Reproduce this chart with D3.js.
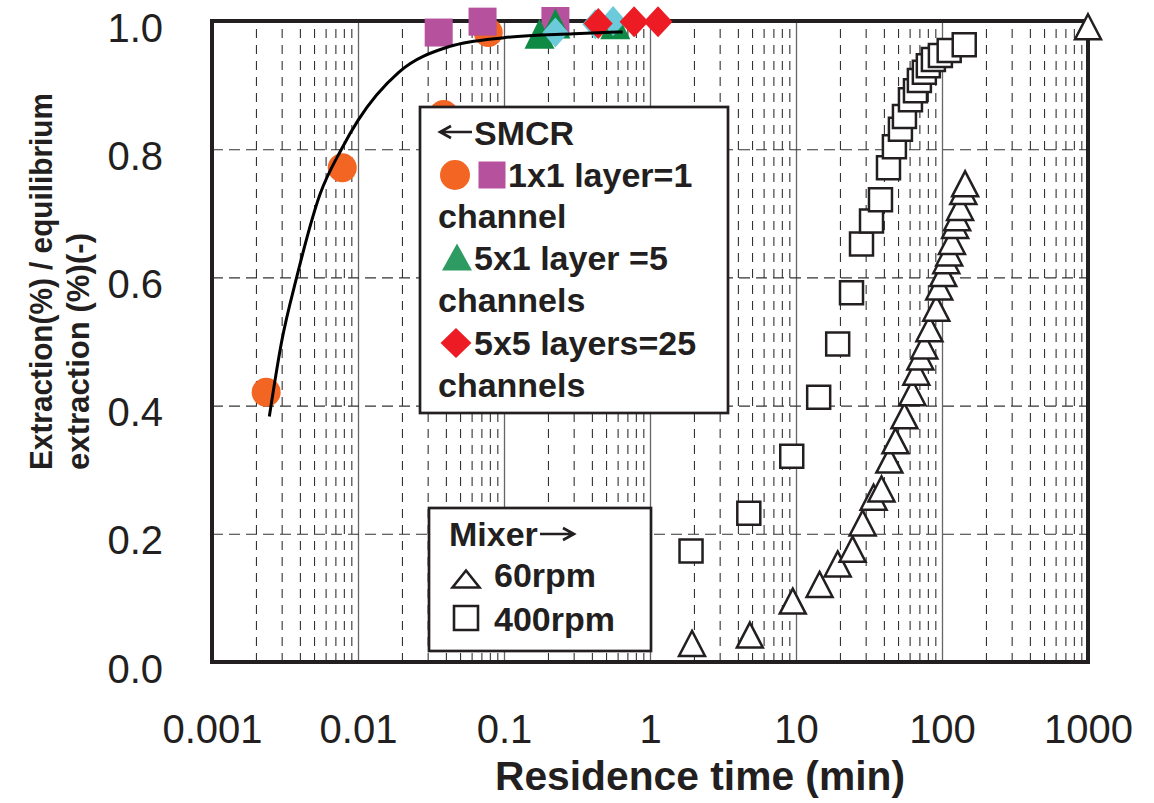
<!DOCTYPE html>
<html>
  <head>
    <meta charset="UTF-8">
    <script src="https://d3js.org/d3.v7.min.js"></script>
    <title>extraction vs residence time</title>
    <style>
      body { margin: 0; background: #fff; }
      text { font-family: "Liberation Sans", Arial, "DejaVu Sans", sans-serif; fill: #231f20; }
    </style>
  </head>
  <body>
    <svg class="chart"></svg>
    <script type="text/javascript">

     var width = 1154,
         height = 803;

     // SMCR 1x1 layer (circles + squares)
     var c1x1X = [0.00235, 0.0078, 0.0386, 0.078];
     var c1x1Y = [0.421, 0.771, 0.854, 0.982];
     var s1x1X = [0.0357, 0.0713, 0.225];
     var s1x1Y = [0.982, 0.999, 1.0];
     // SMCR 5x1 layer
     var t5x1X = [0.175, 0.225, 0.578];
     var t5x1Y = [0.98, 0.996, 0.995];
     // cyan diamonds (not in legend)
     var cyanX = [0.225, 0.422, 0.559];
     var cyanY = [0.982, 0.995, 1.0];
     // SMCR 5x5 layers
     var d5x5X = [0.442, 0.778, 1.135];
     var d5x5Y = [0.996, 0.999, 0.999];
     // fitted curve
     var fitX = [0.00247, 0.0030, 0.0038, 0.0055, 0.0077, 0.010, 0.019, 0.042, 0.10, 0.30, 0.65];
     var fitY = [0.383, 0.50, 0.60, 0.73, 0.80, 0.845, 0.92, 0.96, 0.974, 0.98, 0.983];
     // mixer 400 rpm
     var m400X = [1.91, 4.75, 9.35, 14.3, 19.3, 24.0, 28.1, 32.9, 37.9, 43.0, 47.2, 51.9, 55.3, 60.8, 65.8, 70.0, 75.7, 80.6, 87.3, 97.5, 112, 142];
     var m400Y = [0.173, 0.232, 0.321, 0.413, 0.496, 0.576, 0.652, 0.688, 0.721, 0.771, 0.804, 0.831, 0.851, 0.877, 0.891, 0.907, 0.920, 0.930, 0.940, 0.946, 0.954, 0.963];
     // mixer 60 rpm
     var m60X = [1.94, 4.83, 9.50, 14.5, 19.3, 24.4, 28.6, 34.0, 38.5, 43.6, 48.0, 55.3, 62.7, 66.7, 71.1, 75.7, 82.0, 91.4, 95.7, 102, 107, 112, 117, 123, 127, 133, 140, 144, 1000];
     var m60Y = [0.029, 0.042, 0.095, 0.121, 0.153, 0.176, 0.217, 0.257, 0.270, 0.315, 0.345, 0.384, 0.420, 0.452, 0.476, 0.493, 0.520, 0.552, 0.585, 0.606, 0.626, 0.638, 0.656, 0.681, 0.693, 0.709, 0.734, 0.746, 0.991];

     var xTicks = [0.001, 0.01, 0.1, 1, 10, 100, 1000];
     var xTickLabels = ["0.001", "0.01", "0.1", "1", "10", "100", "1000"];
     var yTicks = [0, 0.2, 0.4, 0.6, 0.8, 1.0];
     var yTickLabels = ["0.0", "0.2", "0.4", "0.6", "0.8", "1.0"];

     function zip(xs, ys) { return xs.map(function(v, i) { return {x: v, y: ys[i]}; }); }

     var x = d3.scaleLog().domain([0.001, 1000]).range([212, 1088]);
     var y = d3.scaleLinear().domain([0, 1]).range([662, 21]);

     var minor = x.ticks().filter(function(d) {
         var l = Math.log10(d); return Math.abs(l - Math.round(l)) > 1e-6; });

     var chart = d3.select(".chart")
                   .attr("width", width)
                   .attr("height", height);

     // minor vertical dashed grid
     var gMinor = chart.append("g")
          .attr("transform", "translate(0," + y(0) + ")")
          .call(d3.axisBottom(x).tickValues(minor).tickSize(-(y(0) - y(1))).tickFormat(""));
     gMinor.select(".domain").remove();
     gMinor.selectAll("line").attr("stroke", "#333").attr("stroke-width", 1.1)
          .attr("stroke-dasharray", "9,7");

     // decade solid grid
     var gMajor = chart.append("g")
          .attr("transform", "translate(0," + y(0) + ")")
          .call(d3.axisBottom(x).tickValues(xTicks.slice(1, -1)).tickSize(-(y(0) - y(1))).tickFormat(""));
     gMajor.select(".domain").remove();
     gMajor.selectAll("line").attr("stroke", "#666").attr("stroke-width", 1.3);

     // horizontal dashed grid
     var gH = chart.append("g")
          .attr("transform", "translate(" + x(0.001) + ",0)")
          .call(d3.axisLeft(y).tickValues([0.2, 0.4, 0.6, 0.8]).tickSize(-(x(1000) - x(0.001))).tickFormat(""));
     gH.select(".domain").remove();
     gH.selectAll("line").attr("stroke", "#333").attr("stroke-width", 1.1)
          .attr("stroke-dasharray", "11,6");

     // tick labels
     var gx = chart.append("g")
          .attr("transform", "translate(0," + y(0) + ")")
          .call(d3.axisBottom(x).tickValues(xTicks).tickSize(0).tickPadding(53)
                .tickFormat(function(d, i) { return xTickLabels[i]; }));
     gx.select(".domain").remove();
     gx.selectAll("text").style("font-size", "40px").attr("fill", "#231f20")
          .style("font-family", '"Liberation Sans", Arial, sans-serif');

     var gy = chart.append("g")
          .attr("transform", "translate(" + x(0.001) + ",0)")
          .call(d3.axisLeft(y).tickValues(yTicks).tickSize(0).tickPadding(49)
                .tickFormat(function(d, i) { return yTickLabels[i]; }));
     gy.select(".domain").remove();
     gy.selectAll("text").style("font-size", "40px").attr("fill", "#231f20").attr("dy", "0.5em")
          .style("font-family", '"Liberation Sans", Arial, sans-serif');

     // plot frame
     chart.append("rect")
          .attr("x", x(0.001)).attr("y", y(1))
          .attr("width", x(1000) - x(0.001)).attr("height", y(0) - y(1))
          .attr("fill", "none").attr("stroke", "#231f20").attr("stroke-width", 4);

     // marker paths
     function sq(s) { var h = s / 2; return "M" + (-h) + "," + (-h) + "h" + s + "v" + s + "h" + (-s) + "Z"; }
     function tri(w, hgt) { return "M0," + (-hgt / 2) + "L" + (w / 2) + "," + (hgt / 2) + "L" + (-w / 2) + "," + (hgt / 2) + "Z"; }
     function dia(w, hgt) { return "M0," + (-hgt / 2) + "L" + (w / 2) + ",0L0," + (hgt / 2) + "L" + (-w / 2) + ",0Z"; }

     function markers(data, path, fill, stroke, sw) {
         chart.append("g").selectAll("path")
              .data(data).enter().append("path")
              .attr("d", path)
              .attr("transform", function(d) { return "translate(" + x(d.x) + "," + y(d.y) + ")"; })
              .attr("fill", fill)
              .attr("stroke", stroke)
              .attr("stroke-width", sw);
     }

     // mixer
     markers(zip(m400X, m400Y), sq(23), "#fff", "#231f20", 2.5);
     markers(zip(m60X, m60Y), tri(26, 25), "#fff", "#231f20", 2.5);

     // SMCR
     chart.append("g").selectAll("circle")
          .data(zip(c1x1X, c1x1Y)).enter().append("circle")
          .attr("cx", function(d) { return x(d.x); })
          .attr("cy", function(d) { return y(d.y); })
          .attr("r", 14.5)
          .attr("fill", "#f26522");
     markers(zip(s1x1X, s1x1Y), sq(28), "#b5519d", "none", 0);
     markers(zip(t5x1X, t5x1Y), tri(30, 30), "#0f8a45", "none", 0);
     markers(zip(cyanX, cyanY), dia(26, 30), "#6ccbda", "none", 0);
     markers(zip(d5x5X, d5x5Y), dia(29, 31), "#ed1c24", "none", 0);

     // fitted line
     var line = d3.line()
          .x(function(d) { return x(d.x); })
          .y(function(d) { return y(d.y); })
          .curve(d3.curveMonotoneX);
     chart.append("path")
          .datum(zip(fitX, fitY))
          .attr("d", line)
          .attr("fill", "none")
          .attr("stroke", "#000")
          .attr("stroke-width", 3);

     // arrow drawn as a path, tip at (tx,ty), pointing left (dir=-1) or right (dir=1)
     function arrow(g, tx, ty, len, dir) {
         g.append("path")
          .attr("d", "M" + (tx - dir * len) + "," + ty + "H" + tx +
                     "M" + (tx - dir * 11) + "," + (ty - 6) + "L" + tx + "," + ty + "L" + (tx - dir * 11) + "," + (ty + 6))
          .attr("fill", "none").attr("stroke", "#231f20").attr("stroke-width", 2.6);
     }

     // SMCR legend
     var lg = chart.append("g");
     lg.append("rect").attr("x", 420).attr("y", 107).attr("width", 308).attr("height", 306)
       .attr("fill", "#fff").attr("stroke", "#231f20").attr("stroke-width", 2.7);
     var lgLines = [
         {t: "SMCR", x: 474, y: 145},
         {t: "1x1 layer=1", x: 508, y: 187},
         {t: "channel", x: 438, y: 228},
         {t: "5x1 layer =5", x: 474, y: 270},
         {t: "channels", x: 438, y: 312},
         {t: "5x5 layers=25", x: 474, y: 355},
         {t: "channels", x: 438, y: 397}
     ];
     lg.selectAll("text.l").data(lgLines).enter().append("text")
       .attr("x", function(d) { return d.x; })
       .attr("y", function(d) { return d.y; })
       .style("font-size", "34px").style("font-weight", "bold")
       .text(function(d) { return d.t; });
     arrow(lg, 440, 132, 32, -1);
     lg.append("circle").attr("cx", 455).attr("cy", 175).attr("r", 15).attr("fill", "#f26522");
     lg.append("path").attr("d", sq(27)).attr("transform", "translate(492,175)").attr("fill", "#b5519d");
     lg.append("path").attr("d", tri(30, 27)).attr("transform", "translate(457,257)").attr("fill", "#2e9b63");
     lg.append("path").attr("d", dia(31, 30)).attr("transform", "translate(456,343)").attr("fill", "#ed1c24");

     // mixer legend
     var lg2 = chart.append("g");
     lg2.append("rect").attr("x", 429).attr("y", 508).attr("width", 222).attr("height", 143)
        .attr("fill", "#fff").attr("stroke", "#231f20").attr("stroke-width", 2.7);
     lg2.append("text").attr("x", 449).attr("y", 546).style("font-size", "34px").style("font-weight", "bold")
        .text("Mixer");
     arrow(lg2, 574, 534, 34, 1);
     lg2.append("text").attr("x", 494).attr("y", 587).style("font-size", "34px").style("font-weight", "bold")
        .text("60rpm");
     lg2.append("text").attr("x", 494).attr("y", 631).style("font-size", "34px").style("font-weight", "bold")
        .text("400rpm");
     lg2.append("path").attr("d", tri(27, 17)).attr("transform", "translate(466,579)")
        .attr("fill", "none").attr("stroke", "#231f20").attr("stroke-width", 2.6);
     lg2.append("path").attr("d", sq(24)).attr("transform", "translate(466,618)")
        .attr("fill", "none").attr("stroke", "#231f20").attr("stroke-width", 2.6);

     // axis titles
     chart.append("text")
          .attr("x", 700).attr("y", 790)
          .attr("text-anchor", "middle")
          .attr("textLength", 410).attr("lengthAdjust", "spacingAndGlyphs")
          .style("font-size", "41px").style("font-weight", "bold")
          .text("Residence time (min)");
     chart.append("text")
          .attr("transform", "translate(52,470) rotate(-90)")
          .attr("textLength", 377).attr("lengthAdjust", "spacingAndGlyphs")
          .style("font-size", "32px").style("font-weight", "bold")
          .text("Extraction(%) / equilibrium");
     chart.append("text")
          .attr("transform", "translate(89,470) rotate(-90)")
          .attr("textLength", 237).attr("lengthAdjust", "spacingAndGlyphs")
          .style("font-size", "32px").style("font-weight", "bold")
          .text("extraction (%)(-)");

    </script>
  </body>
</html>
